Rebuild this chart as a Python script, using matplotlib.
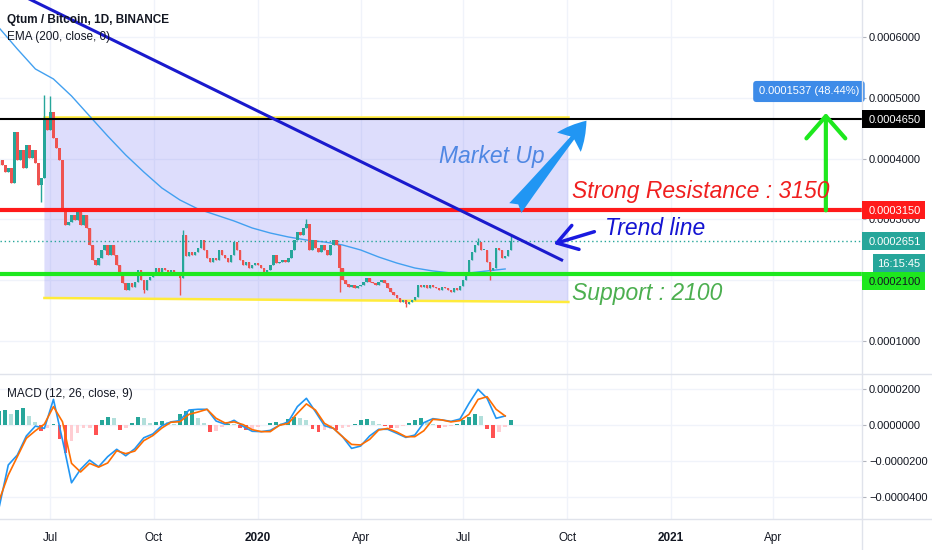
import numpy as np
import pandas as pd
import matplotlib
matplotlib.use("Agg")
import matplotlib.pyplot as plt
import matplotlib.dates as mdates
from matplotlib.patches import Rectangle, Polygon, FancyArrowPatch
from matplotlib.lines import Line2D
from matplotlib.transforms import IdentityTransform

plt.rcParams['font.family'] = ['Liberation Sans', 'DejaVu Sans']

# prices are kept in units of 0.0000001 BTC (so 3150 -> 0.0003150)
SCALE = 1e-7

# 1. Data
# closes, one candle every 64 hours starting 2019-05-17
candle_start = "2019-05-17"
close = [3980, 3900, 3780, 3850, 3600, 4440, 3980, 4140, 3850, 4230,
         4010, 4140, 3930, 3570, 3680, 4640, 4470, 4770, 4340, 4180,
         3980, 3150, 2910, 2960, 3070, 2990, 3120, 2910, 3070, 2860,
         2580, 2330, 2250, 2370, 2500, 2580, 2410, 2580, 2410, 2250,
         2120, 1950, 1840, 1950, 1890, 1970, 2170, 2000, 1840, 2000,
         2050, 2120, 2200, 2130, 2200, 2170, 2130, 2170, 2130, 2090,
         2040, 2740, 2400, 2460, 2410, 2460, 2530, 2660, 2500, 2370,
         2300, 2370, 2330, 2500, 2410, 2370, 2300, 2410, 2630, 2500,
         2330, 2250, 2300, 2200, 2250, 2280, 2250, 2200, 2090, 2170,
         2250, 2410, 2280, 2300, 2330, 2300, 2370, 2500, 2660, 2790,
         2740, 2860, 2920, 2500, 2660, 2530, 2460, 2580, 2500, 2410,
         2580, 2660, 2580, 2200, 2000, 1940, 1890, 1920, 1870, 1900,
         1920, 1970, 2040, 1970, 1950, 1920, 1970, 2000, 1950, 1870,
         1800, 1760, 1710, 1640, 1670, 1610, 1640, 1670, 1720, 1920,
         1890, 1920, 1870, 1920, 1890, 1870, 1840, 1890, 1870, 1840,
         1800, 1870, 1840, 1900, 2000, 2130, 2330, 2460, 2580, 2630,
         2500, 2500, 2300, 2170, 2200, 2530, 2500, 2370, 2400, 2500,
         2651]
first_open = 3900
# long wicks that stick out of the bodies
spike_idx = [14, 15, 17, 48, 60, 61, 102, 113, 135, 159, 163, 170]
spike_px = [3290, 5050, 5030, 1790, 1760, 2820, 3000, 1800, 1560, 2690, 2000, 2740]

# EMA 200, every 16 days
ema = [6153, 5807, 5478, 5313, 5033, 4703, 4374, 4061, 3781, 3518,
       3320, 3172, 3073, 2974, 2859, 2776, 2711, 2661, 2628, 2579,
       2497, 2381, 2282, 2200, 2151, 2118, 2118, 2151, 2184]

# MACD (12, 26, 9), lines every 8 days, histogram every 128 hours
macd = [-454, -222, -167, -61, -6, -19, 142, -83, -321, -246,
        -195, -232, -176, -135, -171, -132, -71, -50, -4, 17,
        24, 83, 87, 87, 22, 4, 26, -8, -35, -37,
        -30, -2, 18, 102, 148, 74, -4, -19, -65, -130,
        -117, -61, -24, -24, -46, -69, -56, 13, 35, 28,
        20, 33, 120, 198, 148, 37, 50]
signal = [-417, -278, -176, -74, -32, 5, 102, 18, -213, -261,
          -213, -234, -211, -143, -159, -145, -87, -59, -17, 15,
          18, 59, 72, 87, 37, 11, 17, 2, -26, -37,
          -37, -2, 9, 65, 117, 83, 9, -19, -65, -108,
          -111, -80, -28, -19, -39, -65, -65, -32, 31, 28,
          17, 24, 59, 142, 157, 87, 50]
hist = [78, 83, 59, 81, 93, 50, 19, -33, -15, 4,
        -80, -154, -89, -43, -19, -15, -56, 26, 44, 37,
        -30, -15, 13, 44, 41, 13, 19, 22, 17, 7,
        59, 78, 81, 41, 13, -37, -33, -11, 7, 4,
        -15, -30, -24, -11, 0, 13, 19, 13, 31, 44,
        41, 26, -24, -37, -30, -24, -28, -15, -11, 4,
        26, 31, 22, 7, -7, -15, -15, -6, 13, 26,
        37, 19, 4, -15, -11, -7, 4, 26, 44, 59,
        50, -24, -74, -37, -11, 26]

top_level = 4650
resistance = 3150
support = 2100
last_price = 2651
move_label = "0.0001537 (48.44%)"
countdown = "16:15:45"

tick_dates = ["2019-07-01", "2019-10-01", "2020-01-01", "2020-04-01",
              "2020-07-01", "2020-10-01", "2021-01-01", "2021-04-01"]
tick_labels = ["Jul", "Oct", "2020", "Apr", "Jul", "Oct", "2021", "Apr"]

# 2. Prepare the series
c_dates = pd.date_range(candle_start, periods=len(close), freq="64h")
opens = [first_open] + close[:-1]
highs = [max(o, c) for o, c in zip(opens, close)]
lows = [min(o, c) for o, c in zip(opens, close)]
for i, p in zip(spike_idx, spike_px):
    if p > highs[i]:
        highs[i] = p
    else:
        lows[i] = p

ema_dates = pd.date_range(candle_start, periods=len(ema), freq="16D")
macd_dates = pd.date_range(candle_start, periods=len(macd), freq="8D")
hist_dates = pd.date_range(candle_start, periods=len(hist), freq="128h")

UP, DOWN = "#26a69a", "#ef5350"
TXT = "#131722"
GRID = "#f0f3fa"
LINE = "#e0e3eb"
TICK_FS = 8

# 3. Figure layout (two panes + price scale on the right)
fig = plt.figure(figsize=(9.32, 5.5), dpi=100)
ax = fig.add_axes([0, 176 / 550, 862 / 932, 374 / 550])
ax2 = fig.add_axes([0, 31 / 550, 862 / 932, 145 / 550], sharex=ax)

xmin, xmax = mdates.date2num(pd.Timestamp("2019-05-17 16:00")), mdates.date2num(pd.Timestamp("2021-06-19"))
ax.set_xlim(xmin, xmax)
ax.set_ylim(454, 6614)
ax2.set_ylim(-522, 283)

for a in (ax, ax2):
    for s in a.spines.values():
        s.set_visible(False)
    a.yaxis.tick_right()
    a.tick_params(axis="y", length=3, color="#b2b5be", labelsize=TICK_FS, labelcolor=TXT, pad=2)
    a.grid(True, color=GRID, lw=1)
    a.set_axisbelow(True)
    a.set_xticks([mdates.date2num(pd.Timestamp(d)) for d in tick_dates])

ax.tick_params(axis="x", bottom=False, labelbottom=False)
ax2.tick_params(axis="x", length=0, pad=16, labelsize=TICK_FS + 0.5, labelcolor=TXT)
ax2.set_xticklabels(tick_labels)
for lab in ax2.get_xticklabels():
    lab.set_verticalalignment("baseline")
    if lab.get_text().isdigit():
        lab.set_fontweight("bold")

ax.set_yticks([1000, 2000, 3000, 4000, 5000, 6000])
ax.set_yticklabels([f"{v * SCALE:.7f}" for v in ax.get_yticks()])
ax2.set_yticks([-400, -200, 0, 200])
ax2.set_yticklabels([f"{v * SCALE:.7f}".replace("-", "\u2212") for v in ax2.get_yticks()])

# 4. Price pane
d = lambda s: mdates.date2num(pd.Timestamp(s))

# channel rectangle
ch_l, ch_r = d("2019-06-26"), d("2020-10-02")
ch_top, ch_bl, ch_br = 4680, 1706, 1640
ax.add_patch(Polygon([(ch_l, ch_top), (ch_r, ch_top), (ch_r, ch_br), (ch_l, ch_bl)],
                     closed=True, facecolor=(0.35, 0.35, 0.95, 0.2), edgecolor="none", zorder=1))
ax.plot([ch_l, ch_r], [ch_top, ch_top], color="#ffeb3b", lw=1.8, zorder=2)
ax.plot([ch_l, ch_r], [ch_bl, ch_br], color="#ffeb3b", lw=1.8, zorder=2)

ax.plot(ema_dates, ema, color="#42a0f0", lw=1, zorder=2)

# candles
cnum = mdates.date2num(c_dates)
colors = [UP if c >= o else DOWN for o, c in zip(opens, close)]
ax.vlines(cnum, lows, highs, colors=colors, lw=1, zorder=3)
bottoms = [min(o, c) for o, c in zip(opens, close)]
heights = [max(abs(c - o), 15) for o, c in zip(opens, close)]
ax.bar(cnum, heights, bottom=bottoms, width=2.2, color=colors, linewidth=0, zorder=3)

# horizontal levels
ax.axhline(top_level, color="black", lw=1.5, zorder=4)
ax.axhline(last_price, color=UP, lw=1, ls=(0, (1, 2)), zorder=4)
ax.axhline(resistance, color="#ff1a1a", lw=3, zorder=4)
ax.axhline(support, color="#1ee81e", lw=3, zorder=4)

# trend line
ax.plot([d("2019-06-09"), d("2020-09-26")], [6663, 2332], color="#1a1acd", lw=2.2, zorder=5)

# arrows
ax.annotate("", xy=(d("2020-09-19"), 2596), xytext=(d("2020-10-25"), 2798),
            arrowprops=dict(arrowstyle="->,head_length=0.7,head_width=0.45", color="#1a1ae0",
                            lw=2.5, shrinkA=0, shrinkB=0, mutation_scale=20), zorder=6)
ax.add_patch(FancyArrowPatch((d("2020-08-16"), 3188), (d("2020-10-18"), 4626),
                             arrowstyle="fancy,head_length=0.5,head_width=0.55,tail_width=0.28",
                             mutation_scale=40, color="#2196f3", lw=0, shrinkA=0, shrinkB=0, zorder=6))
ax.annotate("", xy=(d("2021-05-18"), 4753), xytext=(d("2021-05-18"), resistance),
            arrowprops=dict(arrowstyle="->,head_length=0.8,head_width=0.7", color="#1ee81e",
                            lw=3, shrinkA=0, shrinkB=0, mutation_scale=20), zorder=6)

# annotation texts
big = dict(fontsize=16.5, style="italic", va="baseline", ha="left", zorder=7)
ax.text(d("2020-06-09"), 3924, "Market Up", color="#4f87e3", **big)
ax.text(d("2020-10-05"), 3353, f"Strong Resistance : {resistance}", color="#f01f1f", **big)
ax.text(d("2020-11-03"), 2739, "Trend line", color="#1414d2", **big)
ax.text(d("2020-10-05"), 1673, f"Support : {support}", color="#4caf50", **big)

ax.text(d("2021-05-03"), 5107, move_label, color="white", fontsize=TICK_FS, ha="center", va="center",
        zorder=8, bbox=dict(boxstyle="round,pad=0.5,rounding_size=0.3", fc="#3d8be8", ec="none"))

# legends
fig.text(7 / 932, 1 - 23 / 550, "Qtum / Bitcoin, 1D, BINANCE", fontsize=8.5, fontweight="bold",
         color=TXT, va="baseline")
fig.text(7 / 932, 1 - 40 / 550, "EMA (200, close, 0)", fontsize=8.5, color=TXT, va="baseline")
fig.text(7 / 932, 1 - 397 / 550, "MACD (12, 26, close, 9)", fontsize=8.5, color=TXT, va="baseline")

# 5. MACD pane
hcol = []
prev = 0
for v in hist:
    if v >= 0:
        hcol.append("#26a69a" if v >= prev else "#b2dfdb")
    else:
        hcol.append("#ff5252" if v < prev else "#ffcdd2")
    prev = v
ax2.bar(mdates.date2num(hist_dates), hist, width=3.4, color=hcol, linewidth=0, zorder=2)
ax2.plot(macd_dates, macd, color="#2196f3", lw=1.2, zorder=3)
ax2.plot(macd_dates, signal, color="#ff6d00", lw=1.2, zorder=3)

# 6. Frame lines spanning the whole figure
for yy in (176 / 550, 31 / 550):
    fig.add_artist(Line2D([0, 1], [yy, yy], color=LINE, lw=1))
fig.add_artist(Line2D([862 / 932, 862 / 932], [0, 1], color=LINE, lw=1))


# 7. Coloured price tags on the scale
def price_tag(price, text, fc, tc, dy=0.0, x0=862, x1=925, h=18, tx=869, ha="left"):
    y = ax.transData.transform((xmin, price))[1] + dy
    fig.add_artist(Rectangle((x0, y - h / 2), x1 - x0, h, transform=IdentityTransform(),
                             facecolor=fc, edgecolor="none", zorder=10))
    fig.text(tx, y - 1, text, transform=IdentityTransform(), fontsize=TICK_FS, color=tc,
             ha=ha, va="center", zorder=11)


price_tag(top_level, f"{top_level * SCALE:.7f}", "black", "white")
price_tag(resistance, f"{resistance * SCALE:.7f}", "#ff1a1a", "white")
price_tag(last_price, f"{last_price * SCALE:.7f}", UP, "white")
price_tag(last_price, countdown, UP, "white", dy=-22, x0=873, tx=899, ha="center")
price_tag(support, f"{support * SCALE:.7f}", "#1ee81e", TXT, dy=-7)

fig.savefig("out.png", dpi=100, facecolor="white")
